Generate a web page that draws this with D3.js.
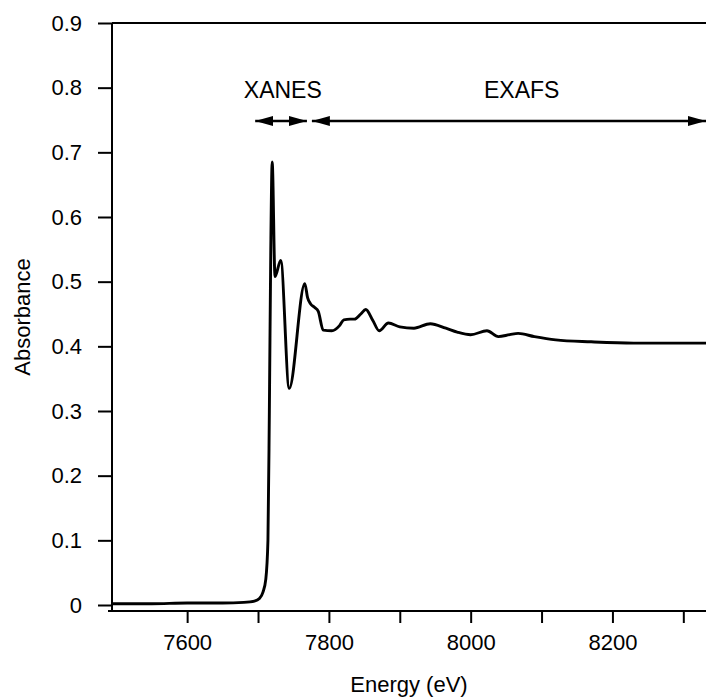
<!DOCTYPE html>
<html>
<head>
<meta charset="utf-8">
<script src="https://cdn.jsdelivr.net/npm/d3@7.9.0/dist/d3.min.js"></script>
<style>
  body { margin: 0; background: #fff; }
  svg { display: block; font-family: "Liberation Sans", Arial, sans-serif; }
</style>
</head>
<body>
<svg id="chart" width="706" height="698"></svg>
<script>
// spectrum
const energy = [7494, 7550, 7600, 7650, 7680, 7695, 7702, 7707, 7711, 7714, 7716, 7718, 7720,
  7724, 7732, 7744, 7766, 7770, 7774, 7780, 7785, 7792, 7804, 7815, 7821, 7830, 7836, 7845,
  7852, 7862, 7871, 7884, 7900, 7920, 7943, 7965, 7981, 8000, 8023, 8039, 8055, 8067, 8090,
  8120, 8170, 8230, 8332];
const absorbance = [0.002, 0.002, 0.003, 0.003, 0.004, 0.006, 0.01, 0.02, 0.04, 0.1, 0.3, 0.55, 0.685,
  0.508, 0.533, 0.335, 0.497, 0.475, 0.466, 0.46, 0.454, 0.425, 0.424, 0.432, 0.441, 0.442, 0.442, 0.45,
  0.457, 0.44, 0.424, 0.436, 0.430, 0.428, 0.435, 0.428, 0.422, 0.418, 0.424, 0.415, 0.418, 0.42, 0.415,
  0.41, 0.407, 0.405, 0.405];

const xTicks = [7600, 7700, 7800, 7900, 8000, 8100, 8200, 8300];
const xTickLabels = [7600, 7800, 8000, 8200];
const yTicks = [0, 0.1, 0.2, 0.3, 0.4, 0.5, 0.6, 0.7, 0.8, 0.9];

const regionLabels = ["XANES", "EXAFS"];
const regionStart = [7696, 7776];
const regionEnd = [7769, 8332];
const regionLabelAt = [7735, 8072];

const svg = d3.select('#chart');
const m = { left: 112, right: 706, top: 23, bottom: 611 };

const x = d3.scaleLinear().domain([7494, 8332]).range([m.left, m.right]);
const y = d3.scaleLinear().domain([0, 0.9]).range([605, m.top]);

// frame top line
svg.append('line').attr('x1', m.left).attr('x2', m.right).attr('y1', m.top).attr('y2', m.top)
  .attr('stroke', '#000').attr('stroke-width', 2);

// y axis
const yAxis = d3.axisLeft(y).tickValues(yTicks).tickSize(14).tickPadding(16)
  .tickFormat(d => d === 0 ? '0' : d.toFixed(1));
const gy = svg.append('g').attr('transform', `translate(${m.left},0)`).call(yAxis);
gy.select('.domain').attr('d', `M0,${m.top}V${m.bottom}`);

// x axis
const xAxis = d3.axisBottom(x).tickValues(xTicks).tickSize(12).tickPadding(11)
  .tickFormat(d => xTickLabels.includes(d) ? d : '');
const gx = svg.append('g').attr('transform', `translate(0,${m.bottom})`).call(xAxis);
gx.select('.domain').attr('d', `M${m.left - 4},0H${m.right}`);

svg.selectAll('.domain, .tick line').attr('stroke', '#000').attr('stroke-width', 2);
svg.selectAll('.tick text').attr('font-size', 22).attr('fill', '#000')
  .attr('font-family', '"Liberation Sans", Arial, sans-serif');

// axis titles
svg.append('text').attr('x', (m.left + m.right) / 2).attr('y', 692)
  .attr('text-anchor', 'middle').attr('font-size', 22).text('Energy (eV)');
svg.append('text').attr('transform', `translate(30,${(m.top + m.bottom) / 2}) rotate(-90)`)
  .attr('text-anchor', 'middle').attr('font-size', 22).text('Absorbance');

// spectrum
const pts = energy.map((e, i) => [e, absorbance[i]]);
const line = d3.line().x(d => x(d[0])).y(d => y(d[1])).curve(d3.curveMonotoneX);
svg.append('path').datum(pts).attr('d', line)
  .attr('fill', 'none').attr('stroke', '#000').attr('stroke-width', 2.9)
  .attr('stroke-linejoin', 'round');

// region arrows
const defs = svg.append('defs');
defs.append('marker').attr('id', 'head').attr('viewBox', '0 0 18 10')
  .attr('refX', 18).attr('refY', 5).attr('markerWidth', 18).attr('markerHeight', 10)
  .attr('markerUnits', 'userSpaceOnUse').attr('orient', 'auto-start-reverse')
  .append('path').attr('d', 'M0,0L18,5L0,10Z').attr('fill', '#000');

const arrowY = 121;
regionLabels.forEach((lab, i) => {
  svg.append('line')
    .attr('x1', x(regionStart[i])).attr('x2', x(regionEnd[i]))
    .attr('y1', arrowY).attr('y2', arrowY)
    .attr('stroke', '#000').attr('stroke-width', 2.5)
    .attr('marker-start', 'url(#head)').attr('marker-end', 'url(#head)');
  svg.append('text').attr('x', x(regionLabelAt[i])).attr('y', 98)
    .attr('text-anchor', 'middle').attr('font-size', 23).text(lab);
});
</script>
</body>
</html>
